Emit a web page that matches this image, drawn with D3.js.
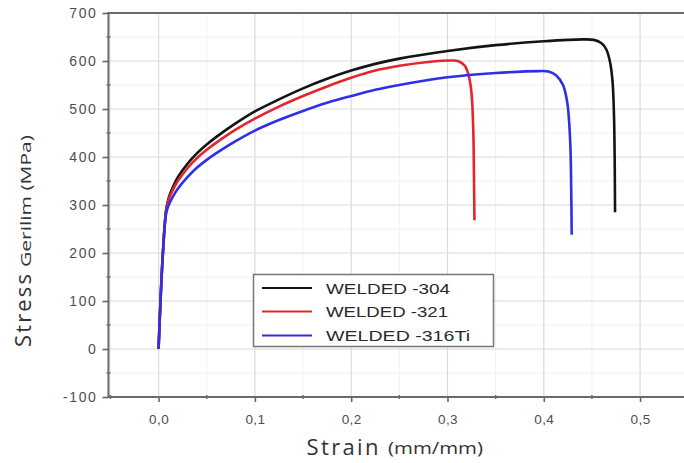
<!DOCTYPE html>
<html>
<head>
<meta charset="utf-8">
<script src="https://cdn.jsdelivr.net/npm/d3@7"></script>
<style>
  body { margin: 0; background: #fff; }
  svg { display: block; }
</style>
</head>
<body>
<div id="chart"></div>
<script>
// stress-strain curves, [strain (mm/mm), stress (MPa)]
var welded304 = [[0,0],[0.002,100],[0.0045,200],[0.008,292],[0.011,318],[0.015,338],[0.02,358],[0.03,386],[0.04,408],[0.05,426],[0.06,442],[0.08,470],[0.1,495],[0.125,520],[0.15,543],[0.175,563],[0.2,580],[0.225,594],[0.25,605],[0.3,621],[0.35,633],[0.4,641],[0.44,645],[0.452,644],[0.46,637],[0.465,624],[0.469,596],[0.4715,555],[0.473,480],[0.4737,380],[0.474,285]];
var welded321 = [[0,0],[0.002,100],[0.0045,200],[0.008,290],[0.011,314],[0.015,332],[0.02,350],[0.03,377],[0.04,398],[0.05,415],[0.06,430],[0.08,457],[0.1,480],[0.125,505],[0.15,527],[0.175,547],[0.2,565],[0.225,580],[0.25,590],[0.28,598],[0.305,601],[0.312,599],[0.318,590],[0.322,570],[0.325,532],[0.3268,455],[0.3275,360],[0.328,268]];
var welded316Ti = [[0,0],[0.002,100],[0.0045,200],[0.008,284],[0.011,302],[0.015,318],[0.02,334],[0.03,358],[0.04,378],[0.05,394],[0.06,408],[0.08,433],[0.1,455],[0.125,477],[0.15,496],[0.175,513],[0.2,527],[0.225,540],[0.25,550],[0.3,566],[0.35,575],[0.395,579],[0.405,578],[0.413,570],[0.42,550],[0.4245,512],[0.4275,430],[0.4285,330],[0.429,238]];

var seriesNames = ["WELDED -304", "WELDED -321", "WELDED -316Ti"];
var seriesColors = ["#141414", "#e3262c", "#2f2fe6"];

var xTickValues = [0, 0.1, 0.2, 0.3, 0.4, 0.5];
var xTickLabels = ["0,0", "0,1", "0,2", "0,3", "0,4", "0,5"];
var xMinorValues = [-0.05, 0.05, 0.15, 0.25, 0.35, 0.45, 0.55];
var yTickValues = [-100, 0, 100, 200, 300, 400, 500, 600, 700];
var yTickLabels = ["-100", "0", "100", "200", "300", "400", "500", "600", "700"];
var yMinorValues = [-50, 50, 150, 250, 350, 450, 550, 650];

var width = 684, height = 463;
var plotLeft = 108.5, plotTop = 13, plotBottom = 397;

var svg = d3.select('#chart').append('svg')
    .attr('width', width)
    .attr('height', height);

var x = d3.scaleLinear().domain([-0.052, 0.548]).range([plotLeft, 686.3]);
var y = d3.scaleLinear().domain([-100, 700]).range([plotBottom, plotTop]);

/* faint minor grid */
svg.append('g').selectAll('line').data(xMinorValues).enter().append('line')
    .attr('x1', d => x(d)).attr('x2', d => x(d))
    .attr('y1', plotTop).attr('y2', plotBottom)
    .attr('stroke', '#f1f1f1').attr('stroke-width', 1);
svg.append('g').selectAll('line').data(yMinorValues).enter().append('line')
    .attr('x1', plotLeft).attr('x2', width)
    .attr('y1', d => y(d)).attr('y2', d => y(d))
    .attr('stroke', '#f1f1f1').attr('stroke-width', 1);

/* major grid */
svg.append('g').selectAll('line').data(xTickValues).enter().append('line')
    .attr('x1', d => x(d)).attr('x2', d => x(d))
    .attr('y1', plotTop).attr('y2', plotBottom)
    .attr('stroke', '#dadada').attr('stroke-width', 1.2);
svg.append('g').selectAll('line').data(yTickValues.slice(1, -1)).enter().append('line')
    .attr('x1', plotLeft).attr('x2', width)
    .attr('y1', d => y(d)).attr('y2', d => y(d))
    .attr('stroke', '#dadada').attr('stroke-width', 1.2);

/* curves */
var line = d3.line()
    .x(d => x(d[0]))
    .y(d => y(d[1]))
    .curve(d3.curveCatmullRom.alpha(0.5));

[welded304, welded321, welded316Ti].forEach(function(s, i) {
    svg.append('path')
        .datum(s)
        .attr('fill', 'none')
        .attr('stroke', seriesColors[i])
        .attr('stroke-width', 2.6)
        .attr('stroke-linejoin', 'round')
        .attr('d', line);
});

/* axes */
var yAxis = d3.axisLeft(y).tickValues(yTickValues).tickSize(6).tickPadding(5)
    .tickFormat((d, i) => yTickLabels[i]);
var gy = svg.append('g').attr('transform', 'translate(' + plotLeft + ',0)').call(yAxis);
gy.select('.domain').remove();
gy.selectAll('.tick line').attr('stroke', '#666').attr('stroke-width', 1.6);
gy.selectAll('.tick text')
    .attr('fill', '#4d4d4d')
    .style('font-family', 'Liberation Sans, Arial, sans-serif')
    .style('font-size', '14px')
    .style('letter-spacing', '1.6px');

var xAxis = d3.axisBottom(x).tickValues(xTickValues).tickSize(5).tickPadding(12)
    .tickFormat((d, i) => xTickLabels[i]);
var gx = svg.append('g').attr('transform', 'translate(0,' + plotBottom + ')').call(xAxis);
gx.select('.domain').remove();
gx.selectAll('.tick line').attr('stroke', '#666').attr('stroke-width', 1.6);
gx.selectAll('.tick text')
    .attr('fill', '#4d4d4d')
    .style('font-family', 'Liberation Sans, Arial, sans-serif')
    .style('font-size', '13.5px')
    .style('letter-spacing', '0.4px');

/* minor ticks */
svg.append('g').selectAll('line').data(yMinorValues).enter().append('line')
    .attr('x1', plotLeft - 2).attr('x2', plotLeft + 2)
    .attr('y1', d => y(d)).attr('y2', d => y(d))
    .attr('stroke', '#666').attr('stroke-width', 1.4);
svg.append('g').selectAll('line').data(xMinorValues).enter().append('line')
    .attr('x1', d => x(d)).attr('x2', d => x(d))
    .attr('y1', plotBottom - 2).attr('y2', plotBottom + 2)
    .attr('stroke', '#666').attr('stroke-width', 1.4);

/* frame */
svg.append('line').attr('x1', plotLeft).attr('x2', plotLeft).attr('y1', plotTop - 1).attr('y2', plotBottom + 1)
    .attr('stroke', '#6a6a6a').attr('stroke-width', 2);
svg.append('line').attr('x1', plotLeft - 1).attr('x2', width).attr('y1', plotBottom).attr('y2', plotBottom)
    .attr('stroke', '#6a6a6a').attr('stroke-width', 2);
svg.append('line').attr('x1', plotLeft - 1).attr('x2', width).attr('y1', plotTop).attr('y2', plotTop)
    .attr('stroke', '#6a6a6a').attr('stroke-width', 2);

/* axis titles */
svg.append('text')
    .attr('x', 306.5).attr('y', 455)
    .attr('textLength', 72).attr('lengthAdjust', 'spacing')
    .style('font-family', 'Open Sans, sans-serif').style('font-size', '22px')
    .attr('fill', '#333')
    .text('Strain');
svg.append('text')
    .attr('x', 388).attr('y', 454)
    .attr('textLength', 95).attr('lengthAdjust', 'spacingAndGlyphs')
    .style('font-family', 'Open Sans, sans-serif').style('font-size', '16px')
    .attr('fill', '#333')
    .text('(mm/mm)');

svg.append('text')
    .attr('transform', 'translate(31,347) rotate(-90)')
    .attr('textLength', 73).attr('lengthAdjust', 'spacing')
    .style('font-family', 'Open Sans, sans-serif').style('font-size', '22px')
    .attr('fill', '#333')
    .text('Stress');
svg.append('text')
    .attr('transform', 'translate(31,267) rotate(-90)')
    .attr('textLength', 132).attr('lengthAdjust', 'spacingAndGlyphs')
    .style('font-family', 'Open Sans, sans-serif').style('font-size', '15px')
    .attr('fill', '#333')
    .text('Gerilim (MPa)');

/* legend */
var legend = svg.append('g');
legend.append('rect')
    .attr('x', 253.5).attr('y', 274.5).attr('width', 240).attr('height', 72)
    .attr('fill', '#fff').attr('stroke', '#777').attr('stroke-width', 1.5);
var legendRows = [288, 311.5, 335.5];
var legendLengths = [124, 122, 144];
seriesNames.forEach(function(name, i) {
    legend.append('line')
        .attr('x1', 262).attr('x2', 312)
        .attr('y1', legendRows[i]).attr('y2', legendRows[i])
        .attr('stroke', seriesColors[i]).attr('stroke-width', 2.2);
    legend.append('text')
        .attr('x', 326).attr('y', legendRows[i] + 5.5)
        .attr('textLength', legendLengths[i]).attr('lengthAdjust', 'spacingAndGlyphs')
        .style('font-family', 'Liberation Sans, Arial, sans-serif').style('font-size', '15px')
        .attr('fill', '#2a2a2a')
        .text(name);
});
</script>
</body>
</html>
